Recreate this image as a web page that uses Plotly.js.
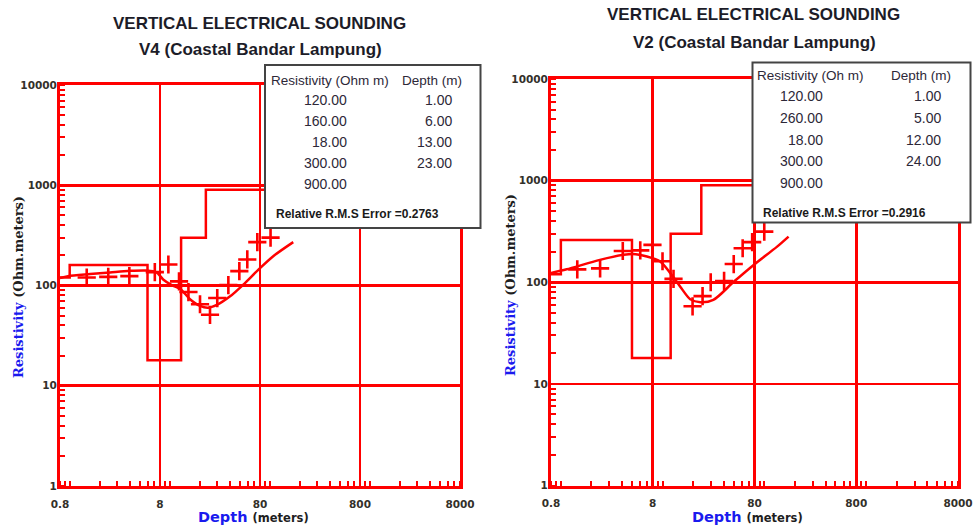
<!DOCTYPE html>
<html><head><meta charset="utf-8">
<script src="https://cdn.plot.ly/plotly-3.0.1.min.js"></script>
<style>html,body{margin:0;padding:0;background:#fff}#chart{width:974px;height:527px}</style>
</head><body><div id="chart"></div>
<script>
// ---------- V4 (left panel) ----------
const v4Resistivity = [120, 160, 18, 300, 900];
const v4Depths = [1, 6, 13, 23];
const v4FieldAB2 = [1.48, 2.43, 3.95, 7.1, 9.7, 12.4, 15.4, 20.1, 25.3, 29.9, 38.6, 49.7, 59.7, 75.2, 102];
const v4FieldRho = [120, 122, 124, 136, 162, 110, 86, 65, 51, 75, 101, 139, 182, 271, 300];
const v4CalcAB2 = [0.8, 0.96, 1.6, 2.53, 4.0, 5.9, 7.4, 8.6, 10.5, 12.7, 15.96, 20.1, 24.2, 29.6, 40.2, 54.4, 77.2, 108.5, 172];
const v4CalcRho = [119, 124, 130, 135, 140, 141, 135, 115, 101, 93, 73, 62.5, 60, 64, 78, 102, 144, 196, 271];
const v4Rms = "0.2763";

// ---------- V2 (right panel) ----------
const v2Resistivity = [120, 260, 18, 300, 900];
const v2Depths = [1, 5, 12, 24];
const v2FieldAB2 = [1.45, 2.43, 4.06, 6.03, 7.95, 9.98, 12.8, 19.7, 24.7, 29.7, 40.2, 50.0, 61.2, 75.9, 99.8];
const v2FieldRho = [134, 137, 203, 206, 233, 161, 108, 58, 73, 100, 103, 151, 216, 248, 315];
const v2CalcAB2 = [0.8, 1.14, 2.42, 4.12, 5.1, 7.0, 9.46, 11.9, 14.9, 18.7, 23.5, 31.5, 50, 78.5, 133.5, 173];
const v2CalcRho = [123, 134, 166, 186, 190, 179, 160, 123, 90.5, 68, 63.5, 67, 101, 148, 224, 281];
const v2Rms = "0.2916";

// ---------- axes ----------
const xTickVals = [0.8, 8, 80, 800, 8000];
const xTickText = ["0.8", "8", "80", "800", "8000"];
const yTickVals = [1, 10, 100, 1000, 10000];
const yTickText = ["1", "10", "100", "1000", "10000"];
const xRange = [0.8, 8000];
const yRange = [1, 10000];
const xTitleHtml = '<span style="color:#1a1aee;font-size:14.5px">Depth</span> <span style="font-size:11.5px">(meters)</span>';
const yTitleHtml = '<span style="color:#1a1aee">Resistivity</span> (Ohm.meters)';

const W = 974, H = 527;
const px = v => v / W;
const py = v => 1 - v / H;
const RED = "#ff0000";

function stepTrace(res, depths, xa, ya) {
  return {
    x: [xRange[0]].concat(depths, [xRange[1]]),
    y: res.concat([res[res.length - 1]]),
    xaxis: xa, yaxis: ya, mode: "lines", line: {shape: "hv", color: RED, width: 2.5},
    showlegend: false, hoverinfo: "skip"
  };
}
function fieldTrace(x, y, xa, ya) {
  return {
    x: x, y: y, xaxis: xa, yaxis: ya, mode: "markers",
    marker: {symbol: "cross-thin", size: 13, color: RED, line: {color: RED, width: 2.6}},
    showlegend: false, cliponaxis: false
  };
}
function calcTrace(x, y, xa, ya) {
  return {
    x: x, y: y, xaxis: xa, yaxis: ya, mode: "lines",
    line: {shape: "spline", smoothing: 0.8, color: RED, width: 2.5}, showlegend: false
  };
}

const data = [
  stepTrace(v4Resistivity, v4Depths, "x", "y"),
  calcTrace(v4CalcAB2, v4CalcRho, "x", "y"),
  fieldTrace(v4FieldAB2, v4FieldRho, "x", "y"),
  stepTrace(v2Resistivity, v2Depths, "x2", "y2"),
  calcTrace(v2CalcAB2, v2CalcRho, "x2", "y2"),
  fieldTrace(v2FieldAB2, v2FieldRho, "x2", "y2")
];

const tickFont = {family: "DejaVu Sans", size: 10.5, color: "#33302a", weight: 700};
const minorTicks = {ticks: "inside", ticklen: 5, tickwidth: 2, tickcolor: RED, dtick: "D1", showgrid: false};

function xAxis(domain, anchor) {
  return {
    type: "log", domain: domain, anchor: anchor,
    range: xRange.map(Math.log10), tickmode: "array", tickvals: xTickVals, ticktext: xTickText,
    ticks: "", ticklabelstandoff: 6, showgrid: true, gridcolor: RED, gridwidth: 2.7,
    showline: true, mirror: true, linecolor: RED, linewidth: 3,
    tickfont: tickFont, minor: minorTicks, zeroline: false, fixedrange: true
  };
}
function yAxis(domain, anchor) {
  return {
    type: "log", domain: domain, anchor: anchor,
    range: yRange.map(Math.log10), tickmode: "array", tickvals: yTickVals, ticktext: yTickText,
    ticks: "", ticklabelstandoff: -2, showgrid: true, gridcolor: RED, gridwidth: 2.7,
    showline: true, mirror: true, linecolor: RED, linewidth: 3,
    tickfont: tickFont, minor: minorTicks, zeroline: false, fixedrange: true
  };
}

function boxAnnotations(res, depths, rms, header, b) {
  const ann = [];
  const base = {xref: "paper", yref: "paper", showarrow: false, yanchor: "middle"};
  const f = {family: "Liberation Sans", size: 14, color: "#2d2838"};
  ann.push(Object.assign({}, base, {x: px(b.hx), y: py(b.hy), xanchor: "left", text: header, font: Object.assign({}, f, {size: 13.5})}));
  ann.push(Object.assign({}, base, {x: px(b.dx + 10), y: py(b.hy), xanchor: "right", text: "Depth (m)", font: Object.assign({}, f, {size: 13.5})}));
  res.forEach((r, i) => {
    ann.push(Object.assign({}, base, {x: px(b.rx), y: py(b.rows[i]), xanchor: "right", text: r.toFixed(2), font: f}));
  });
  depths.forEach((d, i) => {
    ann.push(Object.assign({}, base, {x: px(b.dx), y: py(b.rows[i]), xanchor: "right", text: d.toFixed(2), font: f}));
  });
  ann.push(Object.assign({}, base, {x: px(b.ex), y: py(b.ey), xanchor: "left", text: "Relative R.M.S Error =" + rms,
    font: {family: "Liberation Sans", size: 12, color: "#1a1a1a", weight: 700}}));
  return ann;
}

const titleFont = {family: "Liberation Sans", size: 17, color: "#1c1c28", weight: 700};
function titleAnn(text, x, y) {
  return {xref: "paper", yref: "paper", x: px(x), y: py(y), xanchor: "center", yanchor: "middle",
          showarrow: false, text: text, font: titleFont};
}
function xTitleAnn(x, y) {
  return {xref: "paper", yref: "paper", x: px(x), y: py(y), xanchor: "center", yanchor: "middle",
          showarrow: false, text: xTitleHtml, font: {family: "DejaVu Sans", size: 14.5, color: "#1e1e1e", weight: 700}};
}
function yTitleAnn(x, y) {
  return {xref: "paper", yref: "paper", x: px(x), y: py(y), xanchor: "center", yanchor: "middle", textangle: -90,
          showarrow: false, text: yTitleHtml, font: {family: "DejaVu Serif", size: 13, color: "#1e1e1e", weight: 700}};
}

const annotations = [
  titleAnn("VERTICAL ELECTRICAL SOUNDING", 259.5, 23),
  titleAnn("V4 (Coastal Bandar Lampung)", 260, 50),
  titleAnn("VERTICAL ELECTRICAL SOUNDING", 753.5, 15),
  titleAnn("V2 (Coastal Bandar Lampung)", 754, 43),
  xTitleAnn(253, 517),
  xTitleAnn(747, 517),
  yTitleAnn(18, 287),
  yTitleAnn(510, 285)
].concat(
  boxAnnotations(v4Resistivity, v4Depths, v4Rms, "Resistivity (Ohm m)",
    {hx: 269, hy: 80, rx: 349, dx: 453.5, rows: [100, 121, 142, 163, 184], ex: 274, ey: 214}),
  boxAnnotations(v2Resistivity, v2Depths, v2Rms, "Resistivity (Oh m)",
    {hx: 755, hy: 75, rx: 825, dx: 943, rows: [96, 118, 140, 161, 183], ex: 761, ey: 213})
);

const shapes = [
  {type: "rect", xref: "paper", yref: "paper", x0: px(265), x1: px(480.5), y0: py(228), y1: py(65),
   fillcolor: "#ffffff", line: {color: "#444", width: 2}, layer: "above"},
  {type: "rect", xref: "paper", yref: "paper", x0: px(752.5), x1: px(970.5), y0: py(222.5), y1: py(62.5),
   fillcolor: "#ffffff", line: {color: "#444", width: 2}, layer: "above"}
];

const layout = {
  width: W, height: H, margin: {l: 0, r: 0, t: 0, b: 0},
  paper_bgcolor: "#fff", plot_bgcolor: "#fff", showlegend: false,
  xaxis: xAxis([px(60), px(460)], "y"),
  yaxis: yAxis([py(486), py(85)], "x"),
  xaxis2: xAxis([px(551), px(958)], "y2"),
  yaxis2: yAxis([py(485.5), py(79)], "x2"),
  annotations: annotations, shapes: shapes
};

Plotly.newPlot("chart", data, layout, {displayModeBar: false, staticPlot: true});
</script></body></html>
